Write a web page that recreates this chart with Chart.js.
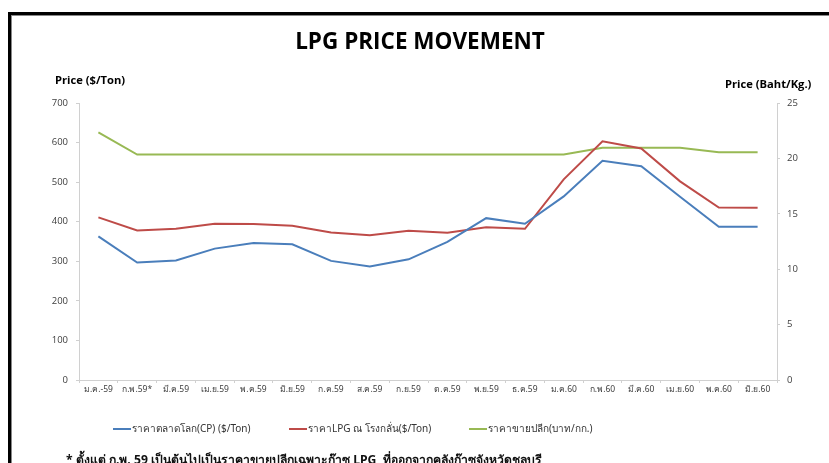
<!DOCTYPE html>
<html><head><meta charset="utf-8">
<script src="https://cdn.jsdelivr.net/npm/chart.js@4/dist/chart.umd.min.js"></script>
<style>
html,body{margin:0;padding:0;background:#fff;width:829px;height:463px;overflow:hidden;}
#wrap{position:relative;width:829px;height:463px;overflow:hidden;}
#frame{position:absolute;left:8px;top:12px;width:900px;height:500px;border-left:3px solid #000;border-top:3px solid #000;box-shadow:inset 1px 1px 0 #888;}
canvas{position:absolute;left:0;top:0;}
#note{position:absolute;left:66px;top:450px;font:bold 12.2px "Noto Sans", "DejaVu Sans", sans-serif;color:#111;white-space:nowrap;}
</style></head><body>
<div id="wrap"><div id="frame"></div><canvas id="c" width="829" height="463"></canvas>
<div id="note">* ตั้งแต่ ก.พ. 59 เป็นต้นไปเป็นราคาขายปลีกเฉพาะก๊าซ LPG &nbsp;ที่ออกจากคลังก๊าซจังหวัดชลบุรี</div></div>
<script>
const categories = ["ม.ค.-59","ก.พ.59*","มี.ค.59","เม.ย.59","พ.ค.59","มิ.ย.59","ก.ค.59","ส.ค.59","ก.ย.59","ต.ค.59","พ.ย.59","ธ.ค.59","ม.ค.60","ก.พ.60","มี.ค.60","เม.ย.60","พ.ค.60","มิ.ย.60"];
const cpPrice = [363,297,302,332,346,343,301,287,305,349,409,395,464,554,540,463,387,387];
const refineryPrice = [411,378,382,395,394,390,373,366,377,372,386,382,507,603,585,502,436,435];
const retailPrice = [22.35,20.35,20.35,20.35,20.35,20.35,20.35,20.35,20.35,20.35,20.35,20.35,20.35,20.95,20.95,20.95,20.55,20.55];
const seriesNames = ["ราคาตลาดโลก(CP) ($/Ton)","ราคาLPG ณ โรงกลั่น($/Ton)","ราคาขายปลีก(บาท/กก.)"];
const leftTicks = [0,100,200,300,400,500,600,700];
const rightTicks = [0,5,10,15,20,25];

const colors = ["#4A7EBB","#BE4B48","#98B954"];
const tickFont = {family:"'Open Sans', 'Liberation Sans', sans-serif", size:9.5};

const decor = {
  id:'decor',
  afterDraw(chart){
    const ctx = chart.ctx;
    ctx.save();
    ctx.fillStyle = '#000';
    ctx.textBaseline = 'alphabetic';
    ctx.textAlign = 'center';
    ctx.font = "bold 22.5px 'Open Sans', 'Liberation Sans', sans-serif";
    ctx.fillText('LPG PRICE MOVEMENT', 420, 49);
    ctx.textAlign = 'left';
    ctx.font = "bold 11.2px 'Open Sans', 'Liberation Sans', sans-serif";
    ctx.fillText('Price ($/Ton)', 55, 84);
    ctx.fillText('Price (Baht/Kg.)', 725, 88);
    // legend
    const lx = [113, 289, 469];
    ctx.font = "10px 'Noto Sans', 'DejaVu Sans', sans-serif";
    ctx.textBaseline = 'middle';
    chart.data.datasets.forEach((ds,i)=>{
      ctx.strokeStyle = ds.borderColor;
      ctx.lineWidth = 2;
      ctx.beginPath(); ctx.moveTo(lx[i],429); ctx.lineTo(lx[i]+18,429); ctx.stroke();
      ctx.fillStyle = '#333';
      ctx.fillText(ds.label, lx[i]+19, 429);
    });
    ctx.restore();
  }
};

new Chart(document.getElementById('c'), {
  type:'line',
  data:{
    labels: categories,
    datasets:[
      {label:seriesNames[0], data:cpPrice, borderColor:colors[0], backgroundColor:colors[0], yAxisID:'y', borderWidth:2, pointRadius:0, tension:0},
      {label:seriesNames[1], data:refineryPrice, borderColor:colors[1], backgroundColor:colors[1], yAxisID:'y', borderWidth:2, pointRadius:0, tension:0},
      {label:seriesNames[2], data:retailPrice, borderColor:colors[2], backgroundColor:colors[2], yAxisID:'y2', borderWidth:2, pointRadius:0, tension:0}
    ]
  },
  options:{
    responsive:false, animation:false,
    layout:{padding:{top:103, bottom:53, left:0, right:0}},
    plugins:{legend:{display:false}, title:{display:false}, tooltip:{enabled:false}},
    scales:{
      x:{
        offset:true,
        grid:{offset:true, drawOnChartArea:false, drawTicks:true, tickLength:3, color:'#d0d0d0'},
        border:{color:'#d0d0d0', width:1},
        ticks:{font:{family:"'Noto Sans', 'DejaVu Sans', sans-serif", size:8.5}, color:'#404040', padding:1, maxRotation:0, autoSkip:false},
        afterFit(s){ s.height = 30; }
      },
      y:{
        position:'left', min:0, max:700,
        afterBuildTicks(s){ s.ticks = leftTicks.map(v=>({value:v})); },
        grid:{drawOnChartArea:false, tickLength:3, color:'#d0d0d0'},
        border:{color:'#d0d0d0', width:1},
        ticks:{font:tickFont, color:'#404040', padding:8},
        afterFit(s){ s.width = 79; }
      },
      y2:{
        position:'right', min:0, max:25,
        afterBuildTicks(s){ s.ticks = rightTicks.map(v=>({value:v})); },
        grid:{drawOnChartArea:false, tickLength:3, color:'#d0d0d0'},
        border:{color:'#d0d0d0', width:1},
        ticks:{font:tickFont, color:'#404040', padding:7},
        afterFit(s){ s.width = 52; }
      }
    }
  },
  plugins:[decor]
});
</script></body></html>
